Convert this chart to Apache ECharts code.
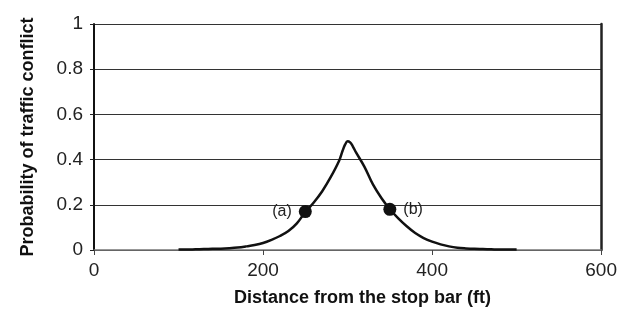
<!DOCTYPE html>
<html>
<head>
<meta charset="utf-8">
<script src="https://cdn.jsdelivr.net/npm/echarts@6/dist/echarts.min.js"></script>
<style>html,body{margin:0;padding:0;background:#fff}#c{width:620px;height:312px}</style>
</head>
<body>
<div id="c"></div>
<script>
const distance = [100,110,120,130,140,150,160,170,180,190,200,210,220,230,240,250,260,270,280,290,294,297,300,303,306,310,320,330,340,350,360,370,380,390,400,410,420,430,440,450,460,470,480,490,500];
const probability = [0.002,0.002,0.003,0.004,0.005,0.006,0.008,0.011,0.016,0.022,0.031,0.045,0.062,0.084,0.118,0.168,0.21,0.26,0.322,0.395,0.438,0.466,0.481,0.476,0.46,0.432,0.368,0.29,0.23,0.18,0.14,0.105,0.075,0.053,0.037,0.025,0.016,0.01,0.007,0.005,0.004,0.003,0.002,0.002,0.002];
const pointX = [250, 350];
const pointY = [0.17, 0.18];
const pointLabels = ['(a)', '(b)'];
const xTitle = 'Distance from the stop bar (ft)';
const yTitle = 'Probability of traffic conflict';

const chart = echarts.init(document.getElementById('c'), null, {renderer: 'canvas'});
const font = 'Liberation Sans, Arial, sans-serif';
chart.setOption({
  animation: false,
  grid: {left: 94, right: 13, top: 24, bottom: 61, containLabel: false},
  xAxis: {
    type: 'value', min: 0, max: 600, interval: 200,
    name: xTitle, nameLocation: 'middle', nameGap: 39,
    nameTextStyle: {fontFamily: font, fontWeight: 'bold', fontSize: 18, color: '#111', padding: [0, 0, 0, 30]},
    axisLine: {show: true, onZero: false, lineStyle: {color: '#777', width: 1.5}},
    axisTick: {show: true, length: 5, lineStyle: {color: '#444'}},
    axisLabel: {fontFamily: font, fontSize: 19, color: '#222', margin: 11},
    splitLine: {show: false}
  },
  yAxis: [{
    type: 'value', min: 0, max: 1, interval: 0.2,
    name: yTitle, nameLocation: 'middle', nameGap: 57, nameRotate: 90,
    nameTextStyle: {fontFamily: font, fontWeight: 'bold', fontSize: 18, color: '#111'},
    axisLine: {show: true, lineStyle: {color: '#111', width: 2}},
    axisTick: {show: true, length: 4, lineStyle: {color: '#222'}},
    axisLabel: {fontFamily: font, fontSize: 19, color: '#222', margin: 11},
    splitLine: {show: true, lineStyle: {color: '#333', width: 1.2}}
  }, {
    type: 'value', min: 0, max: 1, position: 'right',
    axisLine: {show: true, lineStyle: {color: '#222', width: 2.5}},
    axisTick: {show: false}, axisLabel: {show: false}, splitLine: {show: false}
  }],
  series: [{
    type: 'line',
    data: distance.map((d, i) => [d, probability[i]]),
    smooth: 0.35,
    showSymbol: false,
    lineStyle: {color: '#111', width: 2.5},
    z: 3
  }, {
    type: 'scatter',
    data: pointX.map((d, i) => ({value: [d, pointY[i]], label: {position: i === 0 ? 'left' : 'right', formatter: pointLabels[i]}})),
    symbolSize: 13,
    itemStyle: {color: '#111', opacity: 1},
    label: {show: true, fontFamily: font, fontSize: 16, color: '#222', distance: 7},
    z: 4
  }]
});
</script>
</body>
</html>
